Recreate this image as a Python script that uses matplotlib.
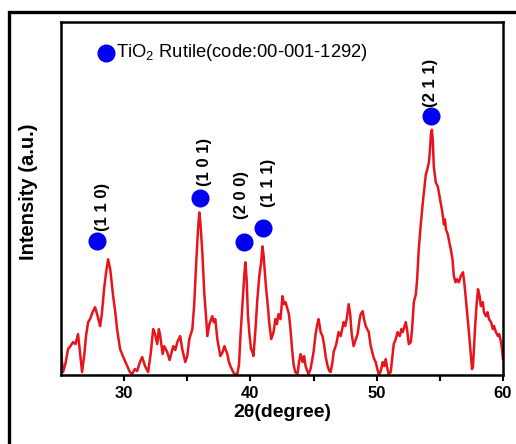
import matplotlib
matplotlib.use("Agg")
import matplotlib.pyplot as plt
from matplotlib.patches import Rectangle

plt.rcParams['font.family'] = ['Liberation Sans', 'DejaVu Sans']
plt.rcParams['mathtext.fontset'] = 'custom'
plt.rcParams['mathtext.rm'] = 'Liberation Sans'

# XRD pattern (2theta in degrees, intensity in arbitrary units)
two_theta = [
    25.00, 25.16, 25.35, 25.56, 25.75, 25.95, 26.15, 26.35, 26.50, 26.67,
    26.85, 26.98, 27.15, 27.30, 27.50, 27.70, 27.90, 28.10, 28.25, 28.41,
    28.55, 28.73, 28.90, 29.13, 29.30, 29.44, 29.68, 29.90, 30.24, 30.45,
    30.63, 30.85, 31.03, 31.25, 31.43, 31.65, 31.90, 32.10, 32.30, 32.45,
    32.62, 32.75, 32.86, 33.05, 33.17, 33.41, 33.60, 33.89, 34.05, 34.21,
    34.44, 34.60, 34.84, 35.00, 35.16, 35.40, 35.55, 35.70, 35.85, 35.95,
    36.05, 36.20, 36.35, 36.50, 36.59, 36.75, 36.98, 37.10, 37.22, 37.38,
    37.62, 37.80, 37.94, 38.17, 38.30, 38.41, 38.60, 38.73, 38.97, 39.10,
    39.21, 39.37, 39.52, 39.60, 39.70, 39.80, 39.92, 40.05, 40.16, 40.24,
    40.40, 40.55, 40.70, 40.85, 40.95, 41.05, 41.20, 41.35, 41.50, 41.65,
    41.83, 41.98, 42.10, 42.22, 42.38, 42.54, 42.66, 42.78, 42.94, 43.05,
    43.17, 43.30, 43.41, 43.55, 43.73, 43.85, 43.97, 44.13, 44.25, 44.37,
    44.50, 44.60, 44.76, 44.90, 45.00, 45.16, 45.30, 45.40, 45.56, 45.71,
    45.85, 45.95, 46.11, 46.25, 46.35, 46.50, 46.59, 46.80, 46.98, 47.15,
    47.38, 47.50, 47.62, 47.78, 47.90, 48.02, 48.17, 48.35, 48.49, 48.65,
    48.73, 48.89, 49.00, 49.13, 49.37, 49.50, 49.68, 49.80, 49.92, 50.05,
    50.16, 50.30, 50.48, 50.60, 50.71, 50.85, 50.95, 51.11, 51.25, 51.35,
    51.51, 51.65, 51.83, 51.95, 52.06, 52.20, 52.30, 52.40, 52.54, 52.70,
    52.80, 52.94, 53.10, 53.20, 53.33, 53.49, 53.65, 53.80, 53.89, 54.00,
    54.13, 54.22, 54.29, 54.37, 54.45, 54.52, 54.60, 54.68, 54.84, 54.95,
    55.08, 55.20, 55.32, 55.40, 55.48, 55.63, 55.75, 55.87, 56.00, 56.11,
    56.25, 56.35, 56.51, 56.65, 56.83, 56.95, 57.06, 57.20, 57.30, 57.45,
    57.55, 57.62, 57.70, 57.78, 57.90, 58.02, 58.15, 58.25, 58.40, 58.49,
    58.65, 58.78, 58.89, 59.05, 59.20, 59.29, 59.44, 59.60, 59.70, 59.84,
    59.92, 60.00,
]
intensity = [
    22, 2, 10, 25, 28, 32, 30, 40, 22, 2,
    20, 38, 52, 55, 62, 67, 58, 48, 62, 85,
    100, 115, 105, 78, 62, 45, 25, 18, 8, 2,
    0, 5, 3, 12, 17, 8, 2, 20, 45, 40,
    30, 45, 38, 20, 28, 22, 14, 28, 24, 32,
    38, 25, 12, 18, 35, 45, 70, 110, 145, 162,
    150, 120, 80, 55, 38, 50, 58, 52, 55, 35,
    18, 22, 28, 20, 12, 8, 3, 0, 0, 10,
    38, 70, 100, 112, 95, 60, 40, 25, 22, 18,
    45, 75, 98, 112, 128, 118, 92, 72, 50, 35,
    42, 55, 50, 60, 55, 78, 70, 72, 65, 60,
    45, 25, 10, 2, 0, 12, 20, 12, 18, 8,
    3, 0, 5, 15, 22, 40, 50, 55, 42, 38,
    28, 18, 8, 3, 2, 12, 22, 30, 42, 38,
    52, 48, 55, 70, 60, 40, 28, 35, 40, 55,
    60, 63, 55, 48, 42, 30, 20, 15, 12, 5,
    0, 2, 12, 8, 15, 5, 0, 2, 18, 30,
    35, 42, 38, 45, 42, 48, 52, 45, 30, 32,
    45, 72, 80, 95, 125, 150, 172, 190, 200, 205,
    212, 225, 240, 245, 232, 208, 200, 192, 188, 180,
    170, 162, 150, 155, 145, 140, 132, 125, 115, 98,
    92, 95, 92, 98, 102, 90, 75, 55, 42, 20,
    5, 8, 25, 45, 68, 85, 78, 68, 72, 62,
    58, 62, 55, 52, 45, 48, 42, 38, 40, 32,
    25, 15,
]

# rutile reflections: marker position and label
peak_theta = [27.86, 36.03, 39.52, 41.03, 54.29]
peak_height = [133, 176, 132, 146, 259]
peak_labels = ['(1 1 0)', '(1 0 1)', '(2 0 0)', '(1 1 1)', '(2 1 1)']
label_offsets = [(5, 10), (4, 12), (-3, 23), (5, 21), (0, 9)]  # pixels

legend_theta = 28.57
legend_height = 322
legend_text = 'TiO$_2$ Rutile(code:00-001-1292)'

fig = plt.figure(figsize=(5.16, 4.44), dpi=100)
ax = fig.add_axes([0.1182, 0.1554, 0.8566, 0.7951])

# outer frame of the original figure (cut off at right and bottom)
fig.add_artist(Rectangle((9 / 516, -0.1), 1.2, 1 - 12.5 / 444 + 0.1,
                         transform=fig.transFigure, fill=False,
                         edgecolor='black', linewidth=2.4, clip_on=False))

ax.plot(two_theta, intensity, color='#e8141c', linewidth=1.8)

ax.plot(peak_theta, peak_height, 'o', color='#0000f0', markersize=12, linestyle='none')
for t, h, lab, off in zip(peak_theta, peak_height, peak_labels, label_offsets):
    ax.annotate(lab, (t, h), xytext=off, textcoords='offset pixels',
                rotation=90, ha='center', va='bottom', fontsize=12, fontweight='bold')

ax.plot([legend_theta], [legend_height], 'o', color='#0000f0', markersize=12)
ax.annotate(legend_text, (legend_theta, legend_height), xytext=(10, 0),
            textcoords='offset pixels', ha='left', va='center', fontsize=13.2)

ax.set_xlim(25, 60)
ax.set_ylim(-1, 353)
ax.set_xticks([30, 40, 50, 60])
ax.set_xticks([35, 45, 55], minor=True)
ax.set_yticks([])
ax.tick_params(axis='x', which='both', direction='out', length=4, width=1.5,
               labelsize=12, pad=4)
for lab in ax.get_xticklabels():
    lab.set_fontweight('bold')
for sp in ax.spines.values():
    sp.set_linewidth(1.8)

ax.set_xlabel('2θ(degree)', fontsize=14, fontweight='bold', labelpad=2)
ax.set_ylabel('Intensity (a.u.)', fontsize=14.5, fontweight='bold')
ax.yaxis.set_label_coords(-0.053, 0.52)

fig.savefig('out.png', dpi=100)
